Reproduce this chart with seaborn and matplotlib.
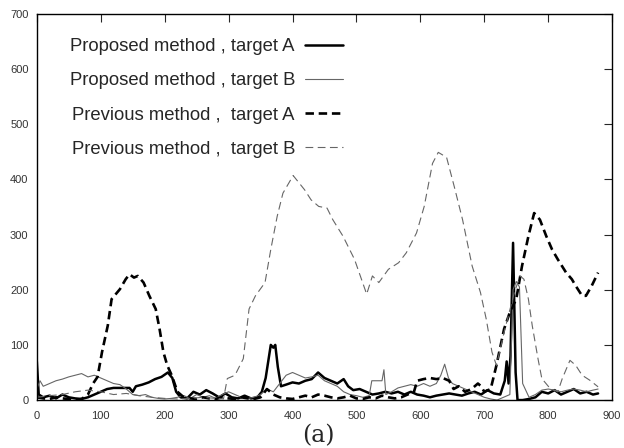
import numpy as np
import pandas as pd
import matplotlib
matplotlib.use("Agg")
import matplotlib.pyplot as plt
import seaborn as sns

sns.set_style("white")
plt.rcParams['font.family'] = ['Liberation Sans', 'DejaVu Sans']

# ---- data ----
prop_a_x = [0, 3, 10, 20, 30, 40, 50, 60, 70, 80, 90, 100, 110, 120, 125, 145, 150, 155, 165, 175,
            185, 195, 205, 212, 218, 225, 235, 245, 255, 265, 275, 285, 295, 305, 315, 325, 335, 345,
            352, 358, 362, 366, 370, 373, 377, 382, 390, 400, 410, 420, 430, 440, 450, 460, 470, 480,
            487, 495, 505, 515, 525, 535, 545, 555, 565, 575, 585, 595, 605, 615, 625, 635, 645, 655,
            665, 675, 685, 695, 705, 715, 725, 732, 735, 738, 741, 745, 749, 752, 760, 770, 780, 790,
            800, 810, 820, 830, 840, 850, 860, 870, 878]
prop_a_y = [70, 10, 5, 8, 3, 10, 5, 3, 2, 5, 10, 15, 20, 22, 22, 22, 15, 25, 28, 32,
            38, 42, 50, 40, 15, 5, 3, 15, 10, 18, 12, 5, 12, 5, 3, 8, 3, 5,
            15, 40, 70, 100, 95, 100, 60, 25, 28, 32, 30, 35, 38, 50, 40, 35, 30, 38,
            25, 18, 20, 15, 10, 12, 15, 12, 15, 10, 15, 10, 8, 5, 8, 10, 12, 10,
            8, 12, 15, 10, 18, 12, 10, 35, 70, 30, 80, 285, 50, 0, 0, 2, 5, 15,
            12, 18, 10, 15, 20, 12, 15, 10, 12]

prop_b_x = [0, 5, 10, 20, 30, 40, 50, 60, 70, 80, 90, 100, 110, 120, 130, 140, 150, 160, 170, 180,
            190, 200, 210, 220, 230, 240, 250, 260, 270, 280, 290, 300, 310, 320, 330, 340, 350, 360,
            370, 380, 390, 400, 410, 420, 430, 440, 450, 460, 470, 480, 490, 500, 510, 520, 524, 540,
            543, 546, 555, 565, 575, 585, 595, 605, 615, 625, 632, 638, 644, 650, 660, 670, 680, 690,
            700, 710, 720, 730, 740, 745, 750, 755, 760, 770, 780, 790, 800, 810, 820, 830, 840, 850,
            860, 870, 878]
prop_b_y = [20, 35, 25, 30, 35, 38, 42, 45, 48, 42, 45, 40, 35, 30, 28, 20, 10, 8, 10, 5,
            3, 2, 3, 5, 8, 3, 10, 5, 8, 3, 10, 15, 10, 5, 3, 5, 10, 20,
            15, 30, 45, 50, 45, 40, 42, 45, 35, 30, 25, 15, 10, 8, 5, 8, 35, 35,
            55, 10, 15, 22, 25, 28, 25, 30, 25, 30, 45, 65, 40, 30, 25, 20, 15, 10,
            5, 2, 0, 5, 10, 200, 215, 205, 30, 5, 10, 18, 20, 18, 15, 18, 20, 18,
            15, 18, 20]

prev_a_x = [0, 10, 20, 30, 40, 50, 60, 70, 80, 88, 95, 102, 111, 117, 130, 139, 145, 152, 158, 167,
            176, 186, 192, 198, 204, 211, 220, 230, 240, 250, 260, 270, 280, 290, 300, 310, 320, 330,
            340, 350, 360, 370, 380, 390, 400, 410, 420, 430, 440, 450, 460, 470, 480, 490, 500, 510,
            520, 530, 540, 550, 560, 570, 580, 590, 595, 605, 615, 625, 635, 645, 652, 660, 670, 680,
            690, 695, 700, 710, 719, 731, 740, 750, 759, 769, 778, 787, 797, 806, 815, 828, 837, 843,
            853, 859, 868, 878]
prev_a_y = [5, 3, 2, 5, 3, 2, 0, 2, 10, 30, 42, 87, 135, 183, 201, 219, 228, 222, 225, 213,
            189, 165, 129, 87, 63, 45, 15, 5, 3, 2, 5, 3, 2, 5, 3, 2, 5, 3,
            2, 5, 20, 10, 5, 3, 2, 5, 8, 5, 10, 8, 5, 3, 5, 8, 3, 2,
            5, 3, 8, 5, 3, 5, 10, 15, 35, 38, 40, 38, 40, 35, 20, 25, 15, 20,
            30, 25, 15, 20, 63, 129, 159, 183, 243, 297, 339, 327, 297, 273, 255, 231, 219, 207,
            189, 189, 207, 231]

prev_b_x = [0, 20, 40, 60, 80, 100, 120, 140, 160, 180, 200, 220, 240, 260, 280, 292, 298, 310, 323,
            332, 342, 357, 366, 376, 385, 401, 419, 429, 441, 454, 463, 479, 497, 516, 525, 535, 550,
            566, 578, 594, 606, 619, 628, 641, 653, 666, 681, 694, 703, 712, 719, 731, 747, 756, 762,
            769, 775, 784, 790, 803, 815, 822, 834, 843, 853, 865, 878]
prev_b_y = [5, 8, 10, 15, 18, 15, 10, 12, 8, 5, 3, 2, 3, 5, 3, 2, 39, 45, 75,
            165, 189, 213, 273, 333, 375, 407, 381, 363, 351, 348, 327, 297, 255, 192, 225, 213, 237,
            249, 267, 303, 351, 429, 449, 440, 387, 327, 243, 195, 147, 87, 63, 123, 195, 225, 219,
            183, 135, 75, 39, 21, 15, 39, 72, 63, 45, 36, 24]

labels = ["Proposed method , target A", "Proposed method , target B",
          "Previous method ,  target A", "Previous method ,  target B"]
x_ticks = [0, 100, 200, 300, 400, 500, 600, 700, 800, 900]
y_ticks = [0, 100, 200, 300, 400, 500, 600, 700]

fig = plt.figure(figsize=(6.24, 4.48), dpi=100)
ax = fig.add_axes([0.059, 0.107, 0.922, 0.862])

styles = [
    dict(color="black", linewidth=1.8, linestyle="-"),
    dict(color="#666666", linewidth=0.8, linestyle="-"),
    dict(color="black", linewidth=1.9, linestyle=(0, (3.2, 1.8))),
    dict(color="#666666", linewidth=0.8, linestyle=(0, (7, 4))),
]
series = [(prop_a_x, prop_a_y), (prop_b_x, prop_b_y), (prev_a_x, prev_a_y), (prev_b_x, prev_b_y)]
for (xs, ys), lab, st in zip(series, labels, styles):
    df = pd.DataFrame({"x": xs, "y": ys})
    sns.lineplot(data=df, x="x", y="y", ax=ax, estimator=None, sort=False, label=lab, **st)

ax.set_xlim(0, 900)
ax.set_ylim(0, 700)
ax.set_xticks(x_ticks)
ax.set_yticks(y_ticks)
ax.set_xlabel("")
ax.set_ylabel("")
ax.tick_params(axis="both", direction="in", length=6, width=0.8, top=True, right=True,
               labelsize=8, labelcolor="#333333", pad=6)
ax.tick_params(axis="x", pad=8)
for sp in ax.spines.values():
    sp.set_visible(True)
    sp.set_color("black")
    sp.set_linewidth(1.0)

leg = ax.legend(loc="upper left", bbox_to_anchor=(0.028, 0.98), frameon=False, markerfirst=False,
                fontsize=13.3, handlelength=2.05, labelspacing=0.93, handletextpad=0.55)

fig.text(0.51, 0.028, "(a)", family=["DejaVu Serif"], fontsize=17,
         ha="center", va="center")

fig.savefig("out.png", dpi=100)
